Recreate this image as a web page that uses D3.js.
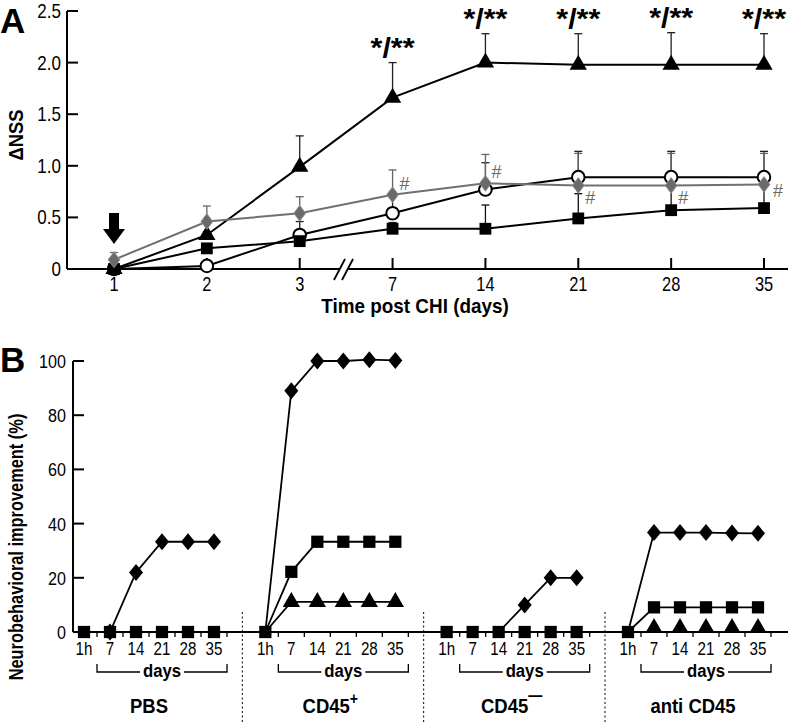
<!DOCTYPE html>
<html><head><meta charset="utf-8">
<script src="https://cdn.jsdelivr.net/npm/d3@7"></script>
<style>
body{margin:0;background:#fff}
svg{display:block}
text{font-family:"Liberation Sans",Arial,sans-serif}
.b{font-weight:bold}
</style></head><body>
<svg id="c" width="792" height="723"></svg>
<script>
// ---------- Panel A data ----------
const daysA = ["1","2","3","7","14","21","28","35"];
const yTicksA = [0,0.5,1.0,1.5,2.0,2.5];
const yTickLabelsA = ["0","0.5","1.0","1.5","2.0","2.5"];
const triangleA = [0.0,0.33,0.99,1.66,2.0,1.98,1.98,1.98];
const triangleErrTop = [0.0,0.36,1.29,2.0,2.28,2.28,2.29,2.28];
const squareA = [0.0,0.2,0.27,0.39,0.39,0.49,0.57,0.59];
const squareErrTop = [0.0,0.22,0.3,0.45,0.62,0.73,0.8,0.82];
const circleA = [0.0,0.03,0.33,0.54,0.77,0.89,0.89,0.89];
const circleErrTop = [0.0,0.05,0.46,0.7,1.03,1.14,1.14,1.14];
const diamondA = [0.09,0.46,0.54,0.72,0.83,0.81,0.81,0.82];
const diamondErrTop = [0.16,0.61,0.7,0.96,1.11,1.12,1.12,1.12];
const starDays = ["7","14","21","28","35"];
const hashDays = ["7","14","21","28","35"];

// ---------- Panel B data ----------
const groupsB = ["PBS","CD45+","CD45-","anti CD45"];
const timesB = ["1h","7","14","21","28","35"];
const yTicksB = [0,20,40,60,80,100];
const diamondB = {
  "PBS":[0,0,22,33.3,33.3,33.3],
  "CD45+":[0,89,100,100,100.5,100.2],
  "CD45-":[0,0,0,10,20,20],
  "anti CD45":[0,36.7,36.7,36.7,36.5,36.4]
};
const squareB = {
  "PBS":[0,0,0,0,0,0],
  "CD45+":[0,22.2,33.3,33.3,33.3,33.3],
  "CD45-":[0,0,0,0,0,0],
  "anti CD45":[0,9.1,9.1,9.1,9.1,9.1]
};
const triangleB = {
  "PBS":[0,0,0,0,0,0],
  "CD45+":[0,11.1,11.1,11.1,11.1,11.1],
  "CD45-":[0,0,0,0,0,0],
  "anti CD45":[0,0,0,0,0,0]
};

const svg = d3.select("#c");

// condensed text helper
function ctext(parent, x, y, str, size, anchor, bold, sx, rot){
  const t = parent.append("text")
    .attr("transform", `translate(${x},${y})` + (rot?` rotate(${rot})`:"") + ` scale(${sx||1},1)`)
    .attr("text-anchor", anchor||"start").attr("font-size", size).text(str);
  if(bold) t.attr("class","b");
  return t;
}

// ================= PANEL A =================
const xA = d3.scalePoint().domain(daysA).range([114,764]);
const yA = d3.scaleLinear().domain([0,2.5]).range([269,11]);
const gA = svg.append("g");

gA.append("line").attr("x1",67).attr("x2",67).attr("y1",yA(2.5)).attr("y2",yA(0)).attr("stroke","#000").attr("stroke-width",2);
gA.append("line").attr("x1",67).attr("x2",339).attr("y1",yA(0)).attr("y2",yA(0)).attr("stroke","#000").attr("stroke-width",2);
gA.append("line").attr("x1",347).attr("x2",788).attr("y1",yA(0)).attr("y2",yA(0)).attr("stroke","#000").attr("stroke-width",2);
[0,8].forEach(o=>{
  gA.append("line").attr("x1",334+o).attr("y1",280).attr("x2",345+o).attr("y2",259).attr("stroke","#000").attr("stroke-width",1.8);
});
yTicksA.forEach((t,i)=>{
  gA.append("line").attr("x1",67).attr("x2",78).attr("y1",yA(t)).attr("y2",yA(t)).attr("stroke","#000").attr("stroke-width",2);
  ctext(gA, 61, yA(t)+7, yTickLabelsA[i], 20, "end", false, 0.85);
});
daysA.forEach(d=>{
  gA.append("line").attr("x1",xA(d)).attr("x2",xA(d)).attr("y1",yA(0)).attr("y2",yA(0)-11).attr("stroke","#000").attr("stroke-width",2);
  ctext(gA, xA(d), 291, d, 20, "middle", false, 0.82);
});
ctext(gA, 415, 313, "Time post CHI (days)", 21, "middle", true, 0.9);
ctext(gA, 23, 135, "ΔNSS", 20, "middle", true, 0.92, -90);
ctext(gA, 0, 33, "A", 35, "start", true, 1);

// arrow
const ax = xA("1");
gA.append("path").attr("d",`M${ax-5},213 L${ax+5},213 L${ax+5},229 L${ax+11},229 L${ax},244 L${ax-11},229 L${ax-5},229 Z`).attr("fill","#000");

function errBars(vals, tops, color, w){
  daysA.forEach((d,i)=>{
    if(tops[i] <= vals[i]) return;
    gA.append("line").attr("x1",xA(d)).attr("x2",xA(d)).attr("y1",yA(vals[i])).attr("y2",yA(tops[i])).attr("stroke",color).attr("stroke-width",w);
    gA.append("line").attr("x1",xA(d)-4).attr("x2",xA(d)+4).attr("y1",yA(tops[i])).attr("y2",yA(tops[i])).attr("stroke",color).attr("stroke-width",w);
  });
}
errBars(squareA, squareErrTop, "#111", 1.3);
errBars(circleA, circleErrTop, "#222", 1.3);
errBars(diamondA, diamondErrTop, "#666", 1.3);
errBars(triangleA, triangleErrTop, "#222", 1.3);

const lineA = d3.line().x((v,i)=>xA(daysA[i])).y(v=>yA(v));
gA.append("path").attr("d",lineA(squareA)).attr("fill","none").attr("stroke","#000").attr("stroke-width",2);
gA.append("path").attr("d",lineA(circleA)).attr("fill","none").attr("stroke","#000").attr("stroke-width",2);
gA.append("path").attr("d",lineA(triangleA)).attr("fill","none").attr("stroke","#000").attr("stroke-width",2);
gA.append("path").attr("d",lineA(diamondA)).attr("fill","none").attr("stroke","#707070").attr("stroke-width",2);

const symSquare = d3.symbol().type(d3.symbolSquare);
const symTri = d3.symbol().type(d3.symbolTriangle);
const symDiamondA = "M0,-8 L6,0 L0,8 L-6,0 Z";
const symDiamondB = "M0,-8.5 L7,0 L0,8.5 L-7,0 Z";

circleA.forEach((v,i)=>{
  gA.append("circle").attr("cx",xA(daysA[i])).attr("cy",yA(v)).attr("r",6.3).attr("fill","#fff").attr("stroke","#000").attr("stroke-width",2);
});
squareA.forEach((v,i)=>{
  gA.append("path").attr("d",symSquare.size(140)()).attr("transform",`translate(${xA(daysA[i])},${yA(v)})`).attr("fill","#000");
});
triangleA.forEach((v,i)=>{
  gA.append("path").attr("d",symTri.size(130)()).attr("transform",`translate(${xA(daysA[i])},${yA(v)})`).attr("fill","#000");
});
diamondA.forEach((v,i)=>{
  gA.append("path").attr("d",symDiamondA).attr("transform",`translate(${xA(daysA[i])},${yA(v)})`).attr("fill","#6a6a6a").attr("stroke","#999").attr("stroke-width",0.8);
});

starDays.forEach(d=>{
  const i = daysA.indexOf(d);
  gA.append("text").attr("class","b").attr("x",xA(d)).attr("y",yA(triangleErrTop[i])-6)
    .attr("text-anchor","middle").attr("font-size",27).attr("textLength",44).attr("lengthAdjust","spacingAndGlyphs").text("*/**");
});
const hashOff = {"7":[12,-5],"14":[11,-5],"21":[12,19],"28":[12,19],"35":[14,13]};
hashDays.forEach(d=>{
  const i = daysA.indexOf(d);
  gA.append("text").attr("x",xA(d)+hashOff[d][0]).attr("y",yA(diamondA[i])+hashOff[d][1]).attr("text-anchor","middle").attr("font-size",18).attr("fill","#6a6a6a").text("#");
});

// ================= PANEL B =================
const gB = svg.append("g");
const xG = d3.scalePoint().domain(groupsB).range([84,628]);
const xT = d3.scalePoint().domain(timesB).range([0,130]);
const yB = d3.scaleLinear().domain([0,100]).range([632,361]);
const step = xT.step();

gB.append("line").attr("x1",73).attr("x2",73).attr("y1",yB(100)).attr("y2",yB(0)).attr("stroke","#000").attr("stroke-width",2);
gB.append("line").attr("x1",73).attr("x2",788).attr("y1",yB(0)).attr("y2",yB(0)).attr("stroke","#000").attr("stroke-width",2);
yTicksB.forEach(t=>{
  gB.append("line").attr("x1",73).attr("x2",84).attr("y1",yB(t)).attr("y2",yB(t)).attr("stroke","#000").attr("stroke-width",2);
  ctext(gB, 66, yB(t)+7, String(t), 19, "end", false, 0.85);
});
ctext(gB, 23, 547, "Neurobehavioral improvement (%)", 20, "middle", true, 0.82, -90);
ctext(gB, 0, 372, "B", 35, "start", true, 1);

groupsB.slice(1).forEach(g=>{
  const xs = xG(g) - 23;
  gB.append("line").attr("x1",xs).attr("x2",xs).attr("y1",612).attr("y2",723).attr("stroke","#000").attr("stroke-width",1).attr("stroke-dasharray","2,2.5");
});

groupsB.forEach(g=>{
  const x0 = xG(g);
  timesB.forEach(t=>{
    const tx = x0 + xT(t) + step/2;
    gB.append("line").attr("x1",tx).attr("x2",tx).attr("y1",yB(0)).attr("y2",yB(0)+5).attr("stroke","#000").attr("stroke-width",1.3);
    ctext(gB, x0+xT(t), 655, t, 18.5, "middle", false, 0.82);
  });
  const bx1 = x0 + xT("1h") + step/2, bx2 = x0 + xT("35") + step/2;
  const bc = (bx1+bx2)/2;
  gB.append("path").attr("d",`M${bx1},664 L${bx1},672 L${bc-22},672 M${bc+22},672 L${bx2},672 L${bx2},664`).attr("fill","none").attr("stroke","#000").attr("stroke-width",1.3);
  ctext(gB, bc, 677, "days", 19, "middle", true, 0.88);
  const lab = ctext(gB, x0+xT("14")+step/2, 713, "", 21, "middle", true, 0.88);
  if(g==="CD45+"){ lab.text("CD45"); lab.append("tspan").attr("dy",-9).attr("font-size",16).text("+"); }
  else if(g==="CD45-"){ lab.text("CD45"); lab.append("tspan").attr("dy",-12).attr("font-size",16).text("\u2014"); }
  else lab.text(g);

  const lineB = d3.line().x((v,i)=>x0+xT(timesB[i])).y(v=>yB(v));
  [triangleB, squareB, diamondB].forEach(s=>{
    gB.append("path").attr("d",lineB(s[g])).attr("fill","none").attr("stroke","#000").attr("stroke-width",1.8);
  });
  triangleB[g].forEach((v,i)=>{
    if(g!=="CD45+" && g!=="anti CD45") return;
    if(i===0) return;
    gB.append("path").attr("d",symTri.size(130)()).attr("transform",`translate(${x0+xT(timesB[i])},${yB(v)-(v===0?4:0)})`).attr("fill","#000");
  });
  squareB[g].forEach((v,i)=>{
    gB.append("path").attr("d",symSquare.size(150)()).attr("transform",`translate(${x0+xT(timesB[i])},${yB(v)})`).attr("fill","#000");
  });
  diamondB[g].forEach((v,i)=>{
    if(v===0 && !(g==="PBS" && i===1)) return;
    gB.append("path").attr("d",symDiamondB).attr("transform",`translate(${x0+xT(timesB[i])},${yB(v)})`).attr("fill","#000");
  });
});
</script>
</body></html>
